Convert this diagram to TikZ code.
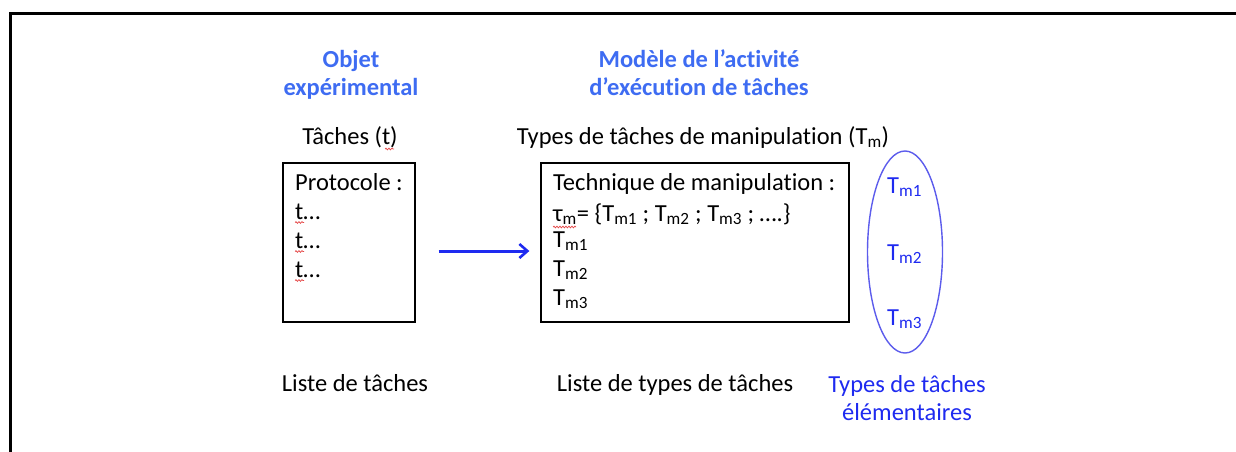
\documentclass[tikz,border=0pt]{standalone}
\usepackage{fontspec}
\setmainfont{Carlito}[Ligatures=NoCommon]
\usetikzlibrary{arrows.meta,shapes.geometric,decorations.pathmorphing}
\definecolor{headblue}{RGB}{62,108,242}
\definecolor{deepblue}{RGB}{30,42,240}
\definecolor{ellblue}{RGB}{92,92,236}
\definecolor{squig}{RGB}{228,70,70}
\newcommand{\Tm}[1]{T\textsubscript{m#1}}

\begin{document}
\begin{tikzpicture}[x=1pt,y=-1pt,
  txt/.style={font=\fontsize{24.5}{29}\selectfont, inner sep=0pt, text=black},
  head/.style={txt, font=\fontsize{24.5}{29}\selectfont\bfseries, text=headblue},
  bluetxt/.style={txt, text=deepblue},
  box/.style={draw=black, line width=1.3pt, inner sep=0pt},
  group/.style={ellipse, draw=ellblue, line width=1.4pt, inner sep=0pt},
  flow/.style={draw=deepblue, line width=3pt, -{Straight Barb[length=8pt,width=14pt,line width=2.6pt]}},
  squiggle/.style={draw=squig, line width=0.7pt, decorate,
    decoration={snake, segment length=3pt, amplitude=0.9pt}},
  frameline/.style={draw=black, line width=3pt}
]
\useasboundingbox (0,0) rectangle (1236,452);

% page frame
\draw[frameline] (10,452) -- (10,14) -- (1236,14);

% column headings
\node[head, anchor=base] (objA) at (351,67) {Objet};
\node[head, anchor=base] (objB) at (351,95) {expérimental};
\node[head, anchor=base] (modA) at (699,67) {Modèle de l’activité};
\node[head, anchor=base] (modB) at (699,95) {d’exécution de tâches};

% box titles
\node[txt, anchor=base] (ttl1) at (350,144) {Tâches (t)};
\node[txt, anchor=base] (ttl2) at (703,144) {Types de tâches de manipulation (\Tm{})};

% left box: protocol
\node[box, minimum width=132, minimum height=159] (lbox) at (349,242.5) {};
\node[txt, anchor=base west] (p0) at (295,190) {Protocole :};
\node[txt, anchor=base west] (p1) at (295,219) {t…};
\node[txt, anchor=base west] (p2) at (295,248) {t…};
\node[txt, anchor=base west] (p3) at (295,277) {t…};

% right box: technique
\node[box, minimum width=308, minimum height=159] (rbox) at (695,242.5) {};
\node[txt, anchor=base west] (q0) at (553,190) {Technique de manipulation :};
\node[txt, anchor=base west] (q1) at (553,221) {τ\textsubscript{m}= \{\Tm1 ; \Tm2 ; \Tm3 ; ….\}};
\node[txt, anchor=base west] (q2) at (553,247) {\Tm1};
\node[txt, anchor=base west] (q3) at (553,276) {\Tm2};
\node[txt, anchor=base west] (q4) at (553,305) {\Tm3};

% elementary task types
\node[group, minimum width=75, minimum height=202] (ell) at (905,252) {};
\node[bluetxt, anchor=base west] (e1) at (887,193) {\Tm1};
\node[bluetxt, anchor=base west] (e2) at (887,260) {\Tm2};
\node[bluetxt, anchor=base west] (e3) at (887,325) {\Tm3};

% captions
\node[txt, anchor=base] (c1) at (355,391) {Liste de tâches};
\node[txt, anchor=base] (c2) at (675,391) {Liste de types de tâches};
\node[bluetxt, anchor=base] (c3a) at (907,392) {Types de tâches};
\node[bluetxt, anchor=base] (c3b) at (907,420) {élémentaires};

% transformation arrow
\draw[flow, shorten <=23pt, shorten >=11pt]
  ([yshift=-8.5pt]lbox.east) -- ([yshift=-8.5pt]rbox.west);

% spell-check underlines
\draw[squiggle] (385,149) -- (394,149);
\draw[squiggle] ([yshift=-3.5pt]p1.base west) -- ++(9,0);
\draw[squiggle] ([yshift=-3.5pt]p2.base west) -- ++(9,0);
\draw[squiggle] ([yshift=-3.5pt]p3.base west) -- ++(9,0);
\draw[squiggle] ([yshift=-6pt]q1.base west) -- ++(23,0);
\end{tikzpicture}
\end{document}
